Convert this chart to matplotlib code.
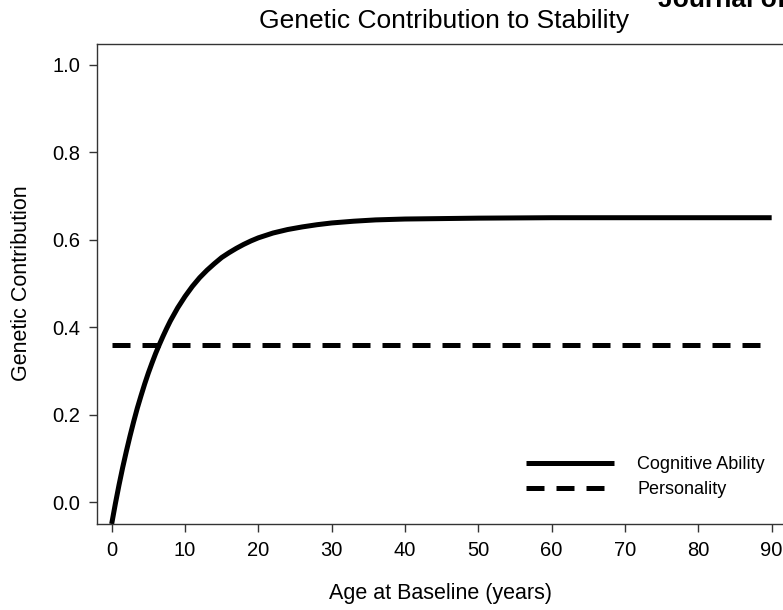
import numpy as np
import matplotlib.pyplot as plt

plt.rcParams['font.family'] = ['Liberation Sans', 'DejaVu Sans']

# values
age = [0, 0.5, 1, 1.5, 2, 2.5, 3, 3.5, 4, 4.5, 5, 5.5, 6, 6.5, 7, 7.5, 8, 9, 10, 11, 12,
       13, 14, 15, 16, 17, 18, 19, 20, 22, 24, 26, 28, 30, 33, 36, 40, 45, 50, 60, 70, 80, 90]
cognitive = [-0.05, -0.004, 0.039, 0.079, 0.116, 0.151, 0.184, 0.215, 0.243, 0.270, 0.295,
             0.318, 0.340, 0.360, 0.379, 0.397, 0.414, 0.444, 0.470, 0.493, 0.513,
             0.530, 0.545, 0.559, 0.570, 0.580, 0.589, 0.597, 0.604, 0.615, 0.623, 0.629,
             0.634, 0.638, 0.642, 0.645, 0.647, 0.648, 0.649, 0.650, 0.650, 0.650, 0.650]
pers_age = [0, 90]
personality = [0.358, 0.358]

xticks = [0, 10, 20, 30, 40, 50, 60, 70, 80, 90]
yticks = [0.0, 0.2, 0.4, 0.6, 0.8, 1.0]

fig = plt.figure(figsize=(7.83, 6.10), dpi=100)
ax = fig.add_axes([97 / 783, 86 / 610, 693 / 783, 480 / 610])

lw = 3.6
ax.plot(age, cognitive, color='black', lw=lw, solid_capstyle='butt',
        solid_joinstyle='round', label='Cognitive Ability')
ax.plot(pers_age, personality, color='black', lw=lw, dashes=(3.6, 2.4),
        dash_capstyle='butt', label='Personality')

ax.set_xlim(-2, 92.5)
ax.set_ylim(-0.05, 1.047)
ax.set_xticks(xticks)
ax.set_yticks(yticks)
ax.set_yticklabels(['%.1f' % v for v in yticks])

for s in ax.spines.values():
    s.set_color('#333333')
    s.set_linewidth(1.0)
ax.tick_params(direction='out', length=6, width=1.0, color='#333333',
               labelsize=14.5, pad=6)

leg = ax.legend(loc='upper left', bbox_to_anchor=(526 / 783, 1 - 456 / 610),
                bbox_transform=fig.transFigure, frameon=False,
                fontsize=13, handlelength=4.9, handletextpad=1.25,
                labelspacing=0.45, borderpad=0, borderaxespad=0)

fig.text(444 / 783, 1 - 21 / 610, 'Genetic Contribution to Stability',
         ha='center', va='center', fontsize=19)
fig.text(658 / 783, 1 - 7 / 610, 'Journal of', ha='left', va='baseline',
         fontsize=19, fontweight='bold')
fig.text(440 / 783, 1 - 594 / 610, 'Age at Baseline (years)', ha='center',
         va='center', fontsize=15.5)
fig.text(22 / 783, 1 - 283 / 610, 'Genetic Contribution', ha='center',
         va='center', rotation=90, fontsize=15.5)

fig.savefig('out.png', dpi=100)
